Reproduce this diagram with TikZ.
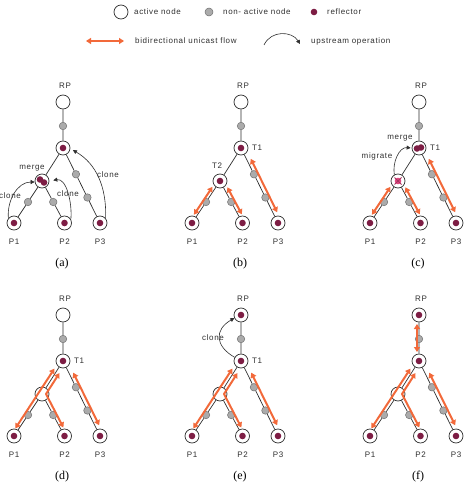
\documentclass[tikz,border=0pt]{standalone}
\usepackage{fontspec}
\setmainfont{Liberation Serif}
\newfontfamily\lblfont[LetterSpace=8]{Liberation Sans}
\usetikzlibrary{calc,arrows.meta}

\definecolor{refl}{HTML}{7D1D44}
\definecolor{greyfill}{HTML}{ABABAB}
\definecolor{greyline}{HTML}{707070}
\definecolor{flowc}{HTML}{F2693A}
\definecolor{ink}{HTML}{303030}
\definecolor{gone}{HTML}{E0457F}

\tikzset{
  edge/.style={draw=ink, line width=0.7pt},
  active/.style={circle, draw=ink, fill=white, line width=0.7pt, minimum size=14pt, inner sep=0pt},
  relay/.style={circle, draw=greyline, fill=greyfill, line width=0.5pt, minimum size=7.5pt, inner sep=0pt},
  dot/.style={circle, fill=refl, minimum size=6.6pt, inner sep=0pt},
  flow/.style={draw=flowc, line width=2pt, line join=round,
    {Triangle[length=5pt,width=6pt]}-{Triangle[length=5pt,width=6pt]}},
  upstream/.style={draw=ink, line width=0.6pt, -{Triangle[length=4pt,width=4pt]}},
  lbl/.style={font=\lblfont\fontsize{8}{9}\selectfont, text=ink, inner sep=0pt},
  caption/.style={font=\fontsize{12}{14}\selectfont, inner sep=0pt},
}

% one multicast tree: RP, relay, T1, branching node and three members
\newcommand\tree[3]{%
  \begin{scope}[shift={(#2,#3)}]
    \node[active] (#1-RP)  at (0,46) {};
    \node[relay]  (#1-g0)  at (0,22) {};
    \node[active] (#1-T1)  at (0,0) {};
    \node[active] (#1-mid) at (-21,-33) {};
    \node[active] (#1-P1)  at (-49,-75) {};
    \node[active] (#1-P2)  at (1.5,-75) {};
    \node[active] (#1-P3)  at (37,-75) {};
  \end{scope}
  \node[relay] (#1-g1) at ($(#1-mid)!0.5!(#1-P1)$) {};
  \node[relay] (#1-g2) at ($(#1-mid)!0.5!(#1-P2)$) {};
  \node[relay] (#1-g3) at ($(#1-T1)!0.35!(#1-P3)$) {};
  \node[relay] (#1-g4) at ($(#1-T1)!0.66!(#1-P3)$) {};
  \draw[edge] (#1-RP) -- (#1-g0) -- (#1-T1) -- (#1-mid) -- (#1-g1) -- (#1-P1)
              (#1-mid) -- (#1-g2) -- (#1-P2)
              (#1-T1) -- (#1-g3) -- (#1-g4) -- (#1-P3);
  \node[dot] (#1-P1r) at (#1-P1) {};
  \node[dot] (#1-P2r) at (#1-P2) {};
  \node[dot] (#1-P3r) at (#1-P3) {};
  \node[lbl] (#1-RPl) at ($(#1-RP)+(2,16)$) {RP};
  \node[lbl] (#1-P1l) at ($(#1-P1)+(0,-19)$) {P1};
  \node[lbl] (#1-P2l) at ($(#1-P2)+(0,-19)$) {P2};
  \node[lbl] (#1-P3l) at ($(#1-P3)+(0,-19)$) {P3};
  \node[caption] (#1-cap) at ($(#1-T1)+(-1,-116)$) {(#1)};
}

% straight two-way flow beside an edge: from, to, gap at from, gap at to, side angle, offset
\newcommand\flow[6]{%
  \path ($(#1)!#3!(#2)$) coordinate (fs) ($(#2)!#4!(#1)$) coordinate (fe);
  \path ($(fs)!#6!#5:(fe)$) coordinate (fs2);
  \draw[flow] (fs2) -- ($(fe)+(fs2)-(fs)$);
}

% flow from T1 down through the branching node to P2
\newcommand\bentflow[1]{%
  \coordinate (#1-bend) at ($(#1-mid)+(4,0)$);
  \draw[flow] ($(#1-T1)!12pt!(#1-mid)!3.5pt!90:(#1-mid)$) -- (#1-bend)
              -- ($(#1-P2)!8pt!(#1-mid)!3pt!-90:(#1-mid)$);
}

\begin{document}
\begin{tikzpicture}[x=1pt,y=1pt]
  \fill[white] (0,0) rectangle (463,-487);
  \useasboundingbox (0,0) rectangle (463,-487);

  % key
  \node[active] (k-act) at (121,-12) {};
  \node[lbl, anchor=west] (k-actl) at (134,-12) {active node};
  \node[relay, minimum size=8pt] (k-rel) at (209,-12) {};
  \node[lbl, anchor=west] (k-rell) at (223,-12) {non- active node};
  \node[dot] (k-dot) at (314,-12) {};
  \node[lbl, anchor=west] (k-dotl) at (327,-12) {reflector};
  \coordinate (k-f1) at (86,-41);
  \coordinate (k-f2) at (124,-41);
  \draw[flow] (k-f1) -- (k-f2);
  \node[lbl, anchor=west] (k-flowl) at (135,-41) {bidirectional unicast flow};
  \coordinate (k-u1) at (264,-45);
  \coordinate (k-u2) at (300,-44);
  \draw[upstream] (k-u1) .. controls (271,-30) and (292,-31) .. (k-u2);
  \node[lbl, anchor=west] (k-upl) at (311,-41) {upstream operation};

  % (a) cloning and merging reflectors
  \tree{a}{63}{-148}
  \node[dot] (a-T1r) at (a-T1) {};
  \node[dot] (a-midr1) at ($(a-mid)+(-2,1.5)$) {};
  \node[dot] (a-midr2) at ($(a-mid)+(2,-1.5)$) {};
  \draw[upstream] (a-P1.140) to[out=95,in=180] ([yshift=-1pt]a-mid.west);
  \draw[upstream, shorten >=4pt] (a-P2.30) to[out=85,in=10] (a-mid.east);
  \draw[upstream, shorten >=3pt] (a-P3.40) to[out=88,in=-30] (a-T1.-5);
  \node[lbl] (a-mergel) at (32,-168) {merge};
  \node[lbl] (a-clone1) at (10,-196) {clone};
  \node[lbl] (a-clone2) at (68,-194) {clone};
  \node[lbl] (a-clone3) at (108,-175) {clone};

  % (b) two reflectors T1 and T2
  \tree{b}{241}{-148}
  \node[dot] (b-T1r) at (b-T1) {};
  \node[dot] (b-midr) at (b-mid) {};
  \node[lbl] (b-T1l) at ($(b-T1)+(16,0)$) {T1};
  \node[lbl] (b-T2l) at ($(b-mid)+(-3,15)$) {T2};
  \flow{b-mid}{b-P1}{9pt}{8pt}{-90}{3pt}
  \flow{b-mid}{b-P2}{9pt}{8pt}{90}{3.5pt}
  \flow{b-T1}{b-P3}{14pt}{10pt}{90}{4pt}

  % (c) T2 migrates and merges into T1
  \tree{c}{419}{-148}
  \node[dot] (c-T1r1) at ($(c-T1)+(-2,-0.5)$) {};
  \node[dot] (c-T1r2) at ($(c-T1)+(2,0.5)$) {};
  \node[dot, fill=gone] (c-midr) at (c-mid) {};
  \draw[gone!75!black, line width=0.9pt]
    ($(c-mid)+(-3.5,3.5)$) -- ($(c-mid)+(3.5,-3.5)$)
    ($(c-mid)+(-3.5,-3.5)$) -- ($(c-mid)+(3.5,3.5)$);
  \node[lbl] (c-T1l) at ($(c-T1)+(16,0)$) {T1};
  \draw[upstream, shorten >=1pt] (c-mid.120) to[out=100,in=175] (c-T1.west);
  \node[lbl] (c-mergel) at (400,-138) {merge};
  \node[lbl] (c-migl) at (377,-156) {migrate};
  \flow{c-mid}{c-P1}{9pt}{8pt}{-90}{3pt}
  \flow{c-mid}{c-P2}{9pt}{8pt}{90}{3.5pt}
  \flow{c-T1}{c-P3}{14pt}{10pt}{90}{4pt}

  % (d) single reflector at T1
  \tree{d}{63}{-361}
  \node[dot] (d-T1r) at (d-T1) {};
  \node[lbl] (d-T1l) at ($(d-T1)+(16,0)$) {T1};
  \flow{d-T1}{d-P1}{11pt}{7pt}{-90}{3pt}
  \bentflow{d}
  \flow{d-T1}{d-P3}{15pt}{10pt}{90}{4pt}

  % (e) T1 clones itself to RP
  \tree{e}{241}{-361}
  \node[dot] (e-T1r) at (e-T1) {};
  \node[dot] (e-RPr) at (e-RP) {};
  \node[lbl] (e-T1l) at ($(e-T1)+(16,0)$) {T1};
  \draw[upstream, looseness=1.5] (e-T1.150) to[out=150,in=210] (e-RP.205);
  \node[lbl] (e-clonel) at (213,-338) {clone};
  \flow{e-T1}{e-P1}{11pt}{7pt}{-90}{3pt}
  \bentflow{e}
  \flow{e-T1}{e-P3}{15pt}{10pt}{90}{4pt}

  % (f) flow extended up to RP
  \tree{f}{419}{-361}
  \node[dot] (f-T1r) at (f-T1) {};
  \node[dot] (f-RPr) at (f-RP) {};
  \flow{f-RP}{f-T1}{9pt}{9pt}{-90}{2pt}
  \flow{f-T1}{f-P1}{11pt}{7pt}{-90}{3pt}
  \bentflow{f}
  \flow{f-T1}{f-P3}{15pt}{10pt}{90}{4pt}
\end{tikzpicture}
\end{document}
